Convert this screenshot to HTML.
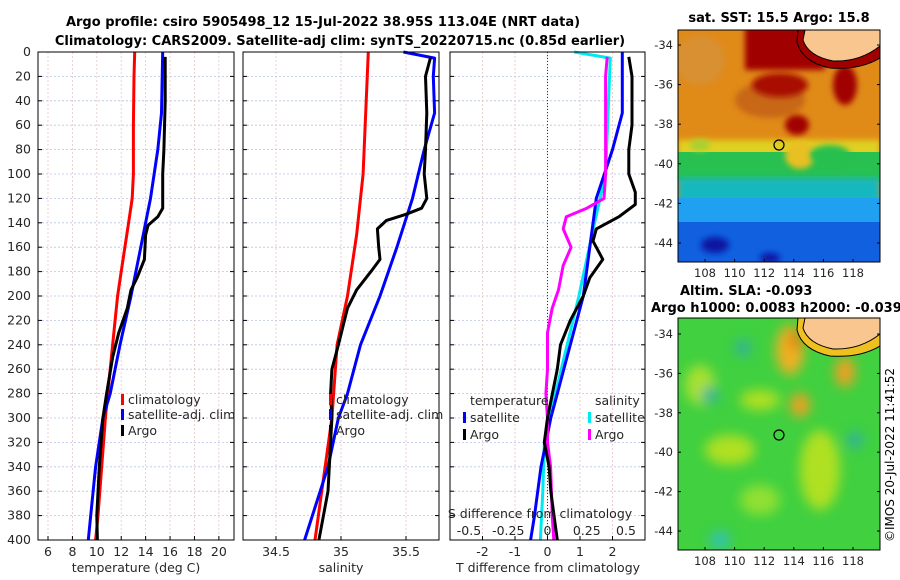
<!DOCTYPE html>
<html><head><meta charset="utf-8"><style>
body{margin:0;background:#fff;}
svg{display:block;font-family:"DejaVu Sans","Liberation Sans",sans-serif;}
</style></head><body>
<svg id="c" width="900" height="580" xmlns="http://www.w3.org/2000/svg">
<defs>
<filter id="bl" x="-50%" y="-50%" width="200%" height="200%"><feGaussianBlur stdDeviation="6"/></filter>
<filter id="bl2" x="-50%" y="-50%" width="200%" height="200%"><feGaussianBlur stdDeviation="3"/></filter>
<clipPath id="m1"><rect x="678" y="30" width="202" height="232"/></clipPath>
<clipPath id="m2"><rect x="678" y="318" width="202" height="232"/></clipPath>
</defs>
<text x="323" y="26" text-anchor="middle" font-size="13" font-weight="bold">Argo profile: csiro 5905498_12 15-Jul-2022 38.95S 113.04E (NRT data)</text>
<text x="340" y="45" text-anchor="middle" font-size="13" font-weight="bold">Climatology: CARS2009. Satellite-adj clim: synTS_20220715.nc (0.85d earlier)</text>

<!-- SST map -->
<g clip-path="url(#m1)">
<rect x="678" y="30" width="202" height="232" fill="#e08a18"/>
<ellipse cx="700" cy="60" rx="25" ry="25" fill="#d89030" filter="url(#bl2)"/>
<ellipse cx="770" cy="100" rx="35" ry="18" fill="#c86818" filter="url(#bl2)"/>
<rect x="678" y="140" width="202" height="20" fill="#e0d020" filter="url(#bl2)"/>
<rect x="678" y="152" width="202" height="30" fill="#28c050"/>
<rect x="678" y="178" width="202" height="25" fill="#18b8c0" filter="url(#bl2)"/>
<rect x="678" y="198" width="202" height="30" fill="#20a0f0"/>
<rect x="678" y="222" width="202" height="45" fill="#1060e0"/>
<ellipse cx="715" cy="245" rx="14" ry="8" fill="#0818a0" filter="url(#bl2)"/>
<ellipse cx="770" cy="258" rx="10" ry="5" fill="#0818a0" filter="url(#bl2)"/>
<rect x="745" y="25" width="80" height="45" fill="#a00000" filter="url(#bl2)"/>
<ellipse cx="780" cy="85" rx="28" ry="12" fill="#a81000" filter="url(#bl2)"/>
<ellipse cx="797" cy="125" rx="12" ry="10" fill="#a00000" filter="url(#bl2)"/>
<ellipse cx="845" cy="85" rx="12" ry="20" fill="#a00000" filter="url(#bl2)"/>
<ellipse cx="800" cy="155" rx="15" ry="14" fill="#e8c020" filter="url(#bl2)"/>
<ellipse cx="830" cy="155" rx="20" ry="10" fill="#28c050" filter="url(#bl2)"/>
<ellipse cx="700" cy="145" rx="10" ry="6" fill="#a8d030" filter="url(#bl2)"/>
<path d="M798 30 L797 42 Q802 62 830 68 Q860 70 880 58 L880 30 Z" fill="#a00000" stroke="#000" stroke-width="1"/>
<path d="M805 30 L803 40 Q808 56 833 61 Q860 62 880 46 L880 30 Z" fill="#f9c690" stroke="#000" stroke-width="1"/>
<circle cx="779" cy="145" r="5" fill="none" stroke="#000" stroke-width="1.2"/>
</g>
<rect x="678" y="30" width="202" height="232" fill="none" stroke="#000"/>
<text x="779" y="22" text-anchor="middle" font-size="13" font-weight="bold">sat. SST: 15.5 Argo: 15.8</text>

<!-- SLA map -->
<g clip-path="url(#m2)">
<rect x="678" y="318" width="202" height="232" fill="#40d040"/>
<g filter="url(#bl)">
<ellipse cx="700" cy="385" rx="15" ry="20" fill="#a8e030"/>
<ellipse cx="760" cy="400" rx="20" ry="10" fill="#b0e020"/>
<ellipse cx="790" cy="350" rx="14" ry="25" fill="#f0b020"/>
<ellipse cx="795" cy="340" rx="6" ry="10" fill="#e08010"/>
<ellipse cx="800" cy="405" rx="10" ry="12" fill="#f0a020"/>
<ellipse cx="845" cy="372" rx="10" ry="15" fill="#f0a020"/>
<ellipse cx="730" cy="450" rx="25" ry="15" fill="#b0e020"/>
<ellipse cx="820" cy="470" rx="20" ry="40" fill="#b0e020"/>
<ellipse cx="760" cy="500" rx="20" ry="15" fill="#90e030"/>
<ellipse cx="720" cy="540" rx="10" ry="8" fill="#30c0c0"/>
<ellipse cx="743" cy="348" rx="8" ry="8" fill="#30b0a0"/>
<ellipse cx="710" cy="395" rx="8" ry="8" fill="#30b0a0"/>
<ellipse cx="855" cy="440" rx="8" ry="8" fill="#30b0a0"/>
</g>
<path d="M798 318 L797 330 Q802 350 830 356 Q860 358 880 346 L880 318 Z" fill="#f0c020" stroke="#000" stroke-width="1"/>
<path d="M805 318 L803 328 Q808 344 833 349 Q860 350 880 334 L880 318 Z" fill="#f9c690" stroke="#000" stroke-width="1"/>
<circle cx="779" cy="435" r="5" fill="none" stroke="#000" stroke-width="1.2"/>
</g>
<rect x="678" y="318" width="202" height="232" fill="none" stroke="#000"/>
<text x="680" y="295" font-size="13" font-weight="bold">Altim. SLA: -0.093</text>
<text x="651" y="312" font-size="13" font-weight="bold">Argo h1000: 0.0083 h2000: -0.039</text>
<text transform="translate(894,455) rotate(-90)" text-anchor="middle" font-size="12">©IMOS 20-Jul-2022 11:41:52</text>
</svg>
<script>
const depthTicks=[0,20,40,60,80,100,120,140,160,180,200,220,240,260,280,300,320,340,360,380,400];
const tempTicks=[6,8,10,12,14,16,18,20];
const salTicks=[34.5,35,35.5];
const tdiffTicks=[-2,-1,0,1,2];
const sdiffTicks=[-0.5,-0.25,0,0.25,0.5];
const sdiffLabels=["-0.5","-0.25","0","0.25","0.5"];
const tempClim=[[0,13.1],[20,13.05],[60,13.0],[100,13.0],[120,12.9],[140,12.6],[160,12.3],[180,12.0],[200,11.7],[220,11.5],[260,11.1],[300,10.7],[340,10.4],[380,10.1],[400,9.9]];
const tempSat=[[0,15.4],[50,15.3],[80,15.0],[120,14.4],[140,14.0],[160,13.6],[180,13.2],[200,12.8],[240,11.9],[280,11.1],[300,10.5],[340,9.9],[380,9.5],[400,9.3]];
const tempArgo=[[4,15.6],[40,15.6],[80,15.5],[100,15.4],[128,15.4],[135,15.0],[142,14.2],[150,14.0],[170,13.9],[185,13.3],[195,12.8],[210,12.5],[230,11.8],[250,11.3],[280,10.8],[300,10.5],[340,10.2],[380,10.0],[400,10.05]];
const salClim=[[0,35.21],[100,35.17],[150,35.12],[200,35.05],[240,34.97],[300,34.93],[400,34.8]];
const salSat=[[0,35.48],[5,35.72],[20,35.71],[50,35.72],[80,35.64],[120,35.55],[140,35.49],[160,35.43],[200,35.3],[240,35.15],[280,35.05],[300,34.98],[340,34.9],[400,34.72]];
const salArgo=[[4,35.69],[20,35.65],[50,35.66],[80,35.65],[100,35.64],[120,35.66],[128,35.62],[133,35.5],[138,35.35],[145,35.28],[160,35.29],[170,35.3],[180,35.23],[195,35.12],[210,35.05],[240,34.98],[260,34.93],[280,34.92],[300,34.93],[320,34.92],[360,34.9],[400,34.83]];
const tdiffArgo=[[4,2.5],[20,2.6],[60,2.6],[80,2.5],[100,2.5],[115,2.7],[125,2.7],[135,2.2],[145,1.5],[155,1.4],[170,1.7],[185,1.3],[200,1.1],[220,0.7],[240,0.4],[260,0.3],[280,0.15],[300,0],[320,-0.1],[340,0.05],[360,0.1],[380,0.2],[400,0.3]];
const tdiffSat=[[0,2.3],[50,2.3],[80,2.0],[120,1.5],[160,1.3],[200,1.1],[240,0.7],[280,0.3],[300,0.1],[340,-0.2],[380,-0.4],[400,-0.52]];
const sdiffSat=[[0,0.17],[5,0.4],[100,0.37],[140,0.3],[200,0.2],[280,0.05],[320,-0.02],[360,-0.03],[400,-0.045]];
const sdiffArgo=[[4,0.38],[20,0.37],[60,0.37],[100,0.37],[120,0.36],[128,0.25],[135,0.12],[145,0.1],[160,0.15],[175,0.1],[195,0.07],[210,0.03],[230,0.0],[260,0.0],[280,-0.01],[300,0.0],[320,0.0],[340,0.02],[380,0.03],[400,0.04]];
const lonTicks=[108,110,112,114,116,118];
const latTicks=[-34,-36,-38,-40,-42,-44];

const NS="http://www.w3.org/2000/svg";
const svg=document.getElementById('c');
function mk(tag,attrs,parent){const e=document.createElementNS(NS,tag);for(const k in attrs)e.setAttribute(k,attrs[k]);(parent||svg).appendChild(e);return e;}
const Y0=52,Y1=540;
const yD=d=>Y0+d/400*(Y1-Y0);
function lin(d0,d1,r0,r1){return v=>r0+(v-d0)/(d1-d0)*(r1-r0);}
const xT=lin(5.18,21.24,38,234);
const xS=lin(34.246,35.754,243,439);
const xTD=lin(-3,3,450,645);
const xSD=lin(-0.621,0.621,450,645);

function grid(px0,px1,xs,sc){
  const g=mk('g',{});
  
  
  depthTicks.forEach(d=>mk('line',{x1:px0,x2:px1,y1:yD(d),y2:yD(d),stroke:'#b8c4e8','stroke-width':0.8,'stroke-dasharray':'2,2'},g));
  xs.forEach(v=>mk('line',{x1:sc(v),x2:sc(v),y1:Y0,y2:Y1,stroke:'#e8c4c4','stroke-width':0.8,'stroke-dasharray':'2,2'},g));
}
function frame(px0,px1,name){
  const r=mk('rect',{x:px0,y:Y0,width:px1-px0,height:Y1-Y0,fill:'none',stroke:'#000','stroke-width':1});
  
  
  depthTicks.forEach(d=>{mk('line',{x1:px0,x2:px0+4,y1:yD(d),y2:yD(d),stroke:'#000'});mk('line',{x1:px1,x2:px1-4,y1:yD(d),y2:yD(d),stroke:'#000'});});
}
function line(data,sc,color,name,w){
  const p=mk('polyline',{points:data.map(q=>sc(q[1]).toFixed(1)+','+yD(q[0]).toFixed(1)).join(' '),fill:'none',stroke:color,'stroke-width':w||3,'stroke-linejoin':'round'});
  
  
}
function txt(x,y,s,attrs,name){
  const t=mk('text',Object.assign({x:x,y:y,'font-size':12,fill:'#262626'},attrs||{}));t.textContent=s;
  
  
  return t;
}
grid(38,234,tempTicks,xT);grid(243,439,salTicks,xS);grid(450,645,tdiffTicks,xTD);
const z=mk('line',{x1:xTD(0),x2:xTD(0),y1:Y0,y2:Y1,stroke:'#333','stroke-width':1,'stroke-dasharray':'1,2'});



line(tempClim,xT,'#ff0000','temp-climatology-line');
line(tempSat,xT,'#0000ff','temp-satellite-line');
line(tempArgo,xT,'#000000','temp-argo-line');
line(salClim,xS,'#ff0000','sal-climatology-line');
line(salSat,xS,'#0000ff','sal-satellite-line');
line(salArgo,xS,'#000000','sal-argo-line');
line(sdiffSat,xSD,'#00e8f0','sdiff-satellite-line');
line(tdiffSat,xTD,'#0000ff','tdiff-satellite-line');
line(sdiffArgo,xSD,'#ff00ff','sdiff-argo-line');
line(tdiffArgo,xTD,'#000000','tdiff-argo-line');

frame(38,234,'temp-axes');frame(243,439,'sal-axes');frame(450,645,'diff-axes');

depthTicks.forEach(d=>txt(31,yD(d)+4,String(d),{'text-anchor':'end','font-size':12.5},'depth-tick-label'));
tempTicks.forEach(v=>{mk('line',{x1:xT(v),x2:xT(v),y1:Y1,y2:Y1-4,stroke:'#000'});txt(xT(v),556,String(v),{'text-anchor':'middle','font-size':12.5},'temp-tick-label');});
salTicks.forEach(v=>{mk('line',{x1:xS(v),x2:xS(v),y1:Y1,y2:Y1-4,stroke:'#000'});txt(xS(v),556,String(v),{'text-anchor':'middle','font-size':12.5},'sal-tick-label');});
tdiffTicks.forEach(v=>{mk('line',{x1:xTD(v),x2:xTD(v),y1:Y1,y2:Y1-4,stroke:'#000'});txt(xTD(v),556,String(v),{'text-anchor':'middle','font-size':12.5},'tdiff-tick-label');});
sdiffTicks.forEach((v,i)=>txt(xSD(v),535,sdiffLabels[i],{'text-anchor':'middle','font-size':12.5},'sdiff-tick-label'));
txt(136,572,'temperature (deg C)',{'text-anchor':'middle','font-size':12.5},'temp-x-axis-title');
txt(341,572,'salinity',{'text-anchor':'middle','font-size':12.5},'sal-x-axis-title');
txt(548,572,'T difference from climatology',{'text-anchor':'middle','font-size':12.5},'tdiff-x-axis-title');
txt(540,518,'S difference from climatology',{'text-anchor':'middle','font-size':12.5},'sdiff-axis-title');

function leg(x,y,color,label){
  const r=mk('rect',{x:x,y:y-9,width:3,height:11,fill:color});
  
  
  txt(x+7,y+1,label,{'font-size':12.5},'legend-entry');
}
leg(121,403,'#ff0000','climatology');leg(121,418,'#0000ff','satellite-adj. clim');leg(121,434,'#000','Argo');
leg(329,403,'#ff0000','climatology');leg(329,418,'#0000ff','satellite-adj. clim');leg(329,434,'#000','Argo');
txt(470,405,'temperature',{'font-size':12.5},'legend-title-temperature');
txt(595,405,'salinity',{'font-size':12.5},'legend-title-salinity');
leg(463,421,'#0000ff','satellite');leg(463,438,'#000','Argo');
leg(588,421,'#00e8f0','satellite');leg(588,438,'#ff00ff','Argo');

const lonX=lin(108,118,705,853);
const lat1=lin(-34,-44,45,243), lat2=lin(-34,-44,334,531);
lonTicks.forEach(v=>{
  [[262,277],[550,565]].forEach(([b,ty])=>{mk('line',{x1:lonX(v),x2:lonX(v),y1:b,y2:b-3,stroke:'#000'});txt(lonX(v),ty,String(v),{'text-anchor':'middle','font-size':11.5},'lon-tick-label');});
});
latTicks.forEach(v=>{
  [lat1,lat2].forEach(f=>{mk('line',{x1:678,x2:681,y1:f(v),y2:f(v),stroke:'#000'});mk('line',{x1:880,x2:877,y1:f(v),y2:f(v),stroke:'#000'});txt(673,f(v)+4,String(v),{'text-anchor':'end','font-size':11.5},'lat-tick-label');});
});
</script>
</body></html>
